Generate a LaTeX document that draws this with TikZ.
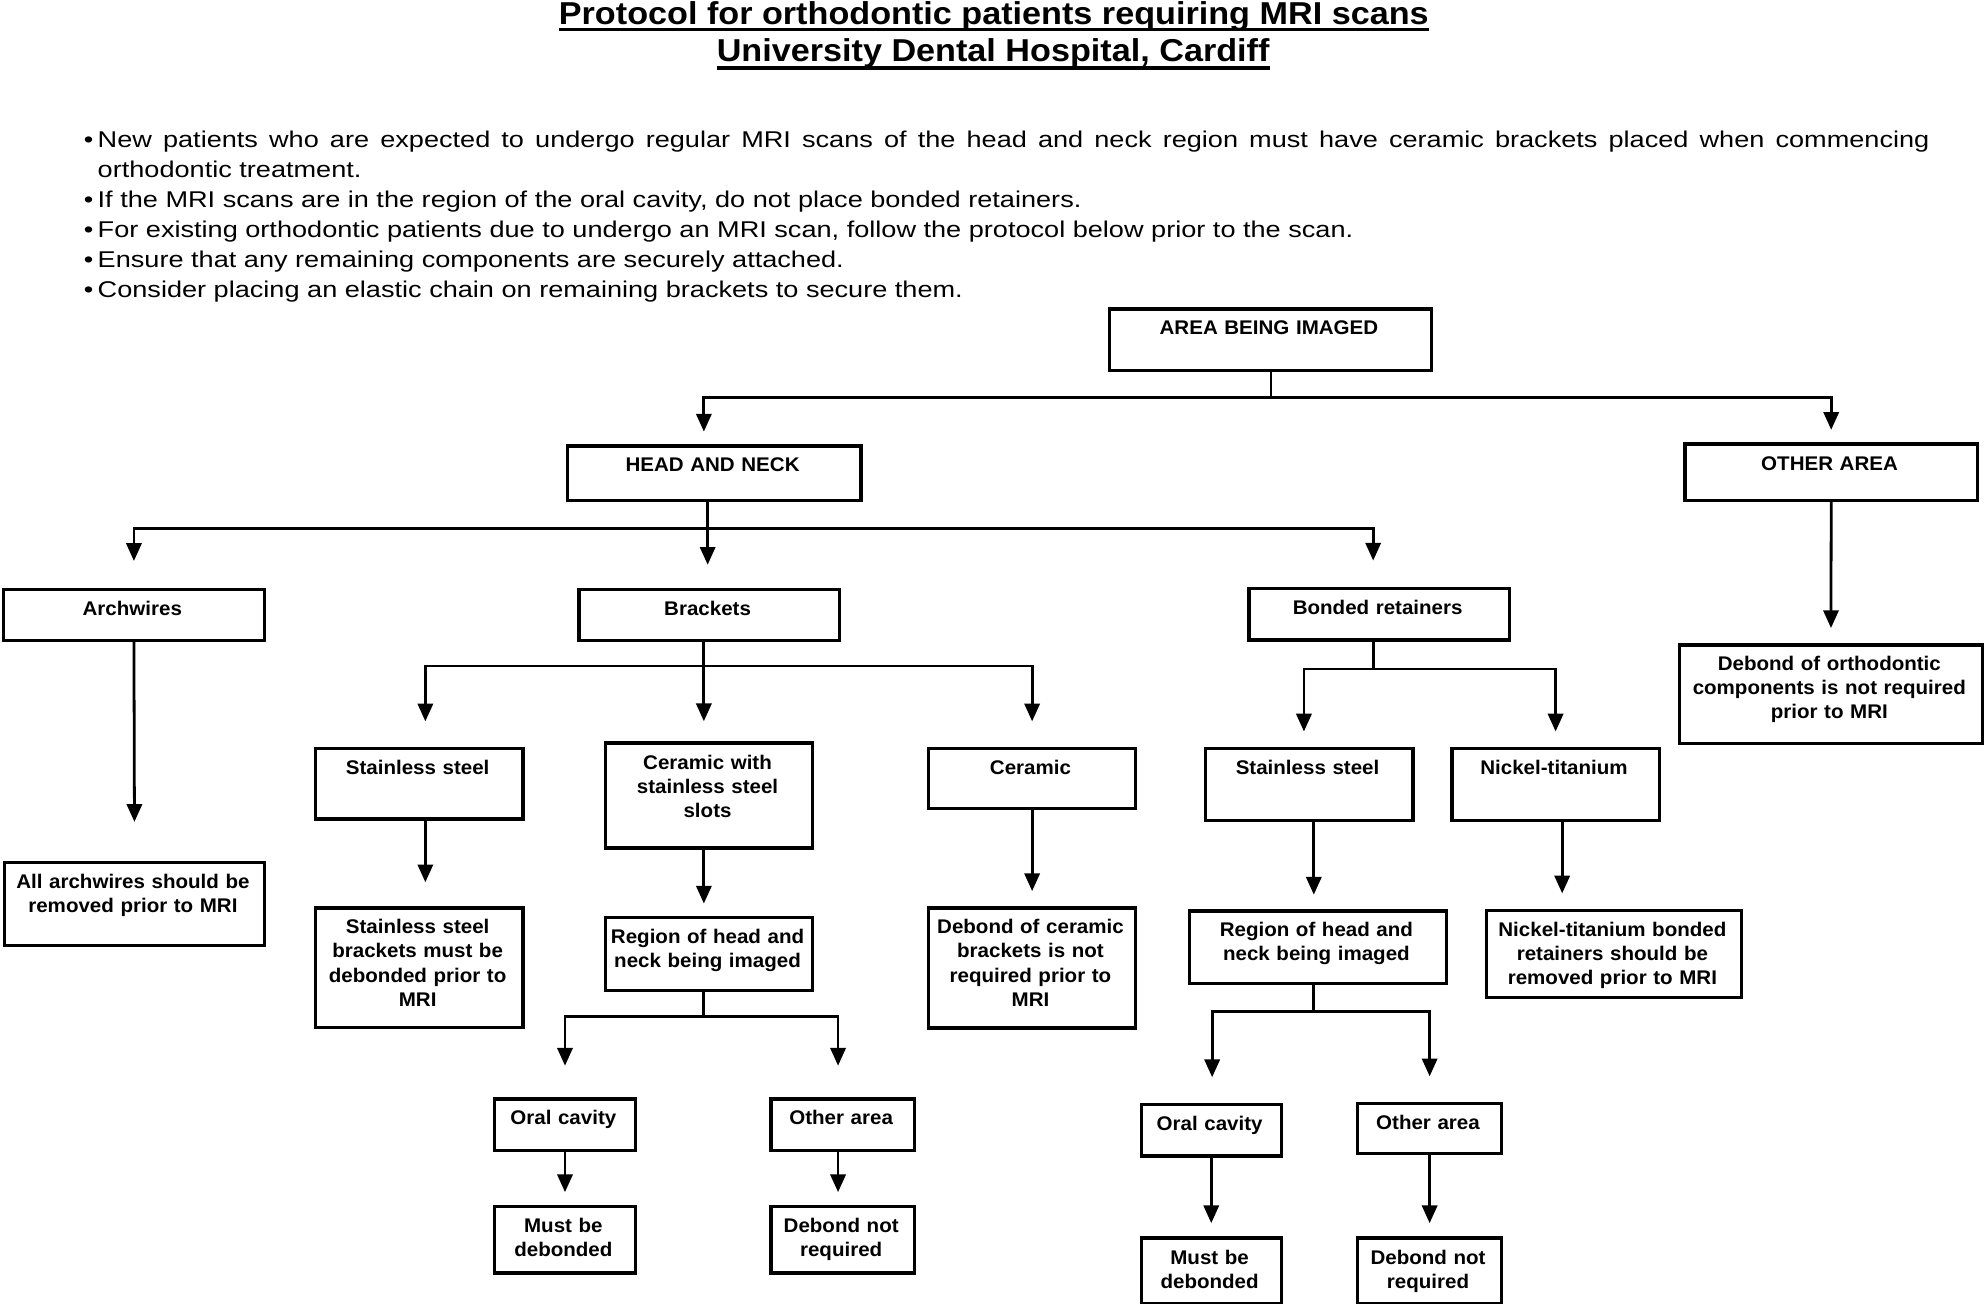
\documentclass[tikz,border=0pt]{standalone}
\usepackage{fontspec}
\setmainfont{Liberation Sans}
\newfontfamily\titlefont[FakeStretch=1.08]{Liberation Sans}
\newfontfamily\bulfont[FakeStretch=1.19]{Liberation Sans}
\newfontfamily\boxfont[FakeStretch=1.04]{Liberation Sans}
\usetikzlibrary{arrows.meta}
\newcommand\mkbox[6]{%
  \pgfmathsetmacro\bw{#4-#2-2.4}%
  \pgfmathsetmacro\bh{#5-#3-2.4}%
  \node[box, minimum width=\bw pt, minimum height=\bh pt] (#1) at (#2+1.2,#3+1.2) {};
  \node[btxt, text width=\bw pt] (#1-t) at (#2/2+#4/2,#3+23) {#6};%
}
\newcommand\bul{\leavevmode\llap{\textbullet\hspace{3.4pt}}}
\begin{document}
\begin{tikzpicture}[x=1pt,y=-1pt,
  box/.style={draw, line width=2.6pt, inner sep=0pt, anchor=north west},
  btxt/.style={font=\boxfont\bfseries\fontsize{15.6}{19}\selectfont, align=center, anchor=base, inner sep=0pt},
  ttl/.style={font=\titlefont\bfseries\fontsize{25}{30}\selectfont, anchor=base, inner sep=0pt},
  uline/.style={line width=2.6pt},
  conn/.style={line width=2.2pt},
  arr/.style={line width=2.2pt, -{Triangle[width=12pt,length=14pt]}},
]
\fill[white] (0,0) rectangle (1568,1030);
\useasboundingbox (0,0) rectangle (1568,1030);

% title
\node[ttl] (t1) at (785,19.2) {Protocol for orthodontic patients requiring MRI scans};
\node[ttl] (t2) at (784.5,48.7) {University Dental Hospital, Cardiff};
\draw[uline] ([yshift=-4pt]t1.base west) -- ([yshift=-4pt]t1.base east);
\draw[uline] ([yshift=-5pt]t2.base west) -- ([yshift=-5pt]t2.base east);

% bullets
\node[anchor=base west, inner sep=0pt, text width=1447pt, align=justify,
      font=\bulfont\fontsize{18}{23.7}\selectfont] (bul) at (77,116.6) {%
\setlength\parindent{0pt}%
\bul New patients who are expected to undergo regular MRI scans of the head and neck region must have ceramic brackets placed when commencing\linebreak orthodontic treatment.\par
\bul If the MRI scans are in the region of the oral cavity, do not place bonded retainers.\par
\bul For existing orthodontic patients due to undergo an MRI scan, follow the protocol below prior to the scan.\par
\bul Ensure that any remaining components are securely attached.\par
\bul Consider placing an elastic chain on remaining brackets to secure them.\par};

% boxes
\mkbox{area}{874}{241.5}{1130.7}{292.3}{AREA BEING IMAGED}
\mkbox{head}{445.8}{349.7}{680}{395}{HEAD AND NECK}
\mkbox{other}{1328.6}{348.3}{1561.8}{395}{OTHER AREA}
\mkbox{archw}{0}{462.9}{209}{505.6}{Archwires}
\mkbox{brack}{454.9}{462.9}{663}{505.6}{Brackets}
\mkbox{bond}{984}{462.6}{1192.5}{505.5}{Bonded retainers}
\mkbox{dorth}{1324}{506.9}{1566}{587}{Debond of orthodontic\\components is not required\\prior to MRI}
\mkbox{ssb}{246.8}{588.6}{413}{646.9}{Stainless steel}
\mkbox{cws}{476}{584.5}{641.8}{669.8}{Ceramic with\\stainless steel\\slots}
\mkbox{cer}{731}{588.6}{897}{638.4}{Ceramic}
\mkbox{ssr}{949.7}{588.6}{1116}{648}{Stainless steel}
\mkbox{nit}{1144.4}{588.6}{1310.6}{648}{Nickel-titanium}
\mkbox{allarch}{1}{679}{209}{747}{All archwires should be\\removed prior to MRI}
\mkbox{ssmsg}{246.8}{714.7}{413}{811.4}{Stainless steel\\brackets must be\\debonded prior to\\MRI}
\mkbox{regb}{476}{722.5}{641.8}{782.3}{Region of head and\\neck being imaged}
\mkbox{dcer}{731}{714.7}{897}{812}{Debond of ceramic\\brackets is not\\required prior to\\MRI}
\mkbox{regr}{937}{717}{1142.7}{777}{Region of head and\\neck being imaged}
\mkbox{nimsg}{1171.7}{716.5}{1375.6}{788}{Nickel-titanium bonded\\retainers should be\\removed prior to MRI}
\mkbox{oralb}{388}{865.6}{502}{908.9}{Oral cavity}
\mkbox{othb}{606.5}{865.6}{722.4}{908.9}{Other area}
\mkbox{mustb}{388}{950.5}{502}{1005.5}{Must be\\debonded}
\mkbox{dnb}{606.5}{950.5}{722.4}{1005.5}{Debond not\\required}
\mkbox{oralr}{899}{869.7}{1012}{913}{Oral cavity}
\mkbox{othr}{1070}{869}{1186}{911}{Other area}
\mkbox{mustr}{899}{975.5}{1012}{1029.5}{Must be\\debonded}
\mkbox{dnr}{1070}{975.5}{1186}{1029.5}{Debond not\\required}

% junctions and columns
\coordinate (jA) at (1004,314);
\coordinate (xA1) at (556,0);
\coordinate (jB) at (559,417.6);
\coordinate (xB3) at (1084.7,0);
\coordinate (jC) at (556,526);
\coordinate (xC1) at (336,0);
\coordinate (jD) at (556,803);
\coordinate (xD2) at (662,0);
\coordinate (jE) at (1084.7,528.4);
\coordinate (xE1) at (1030,0);
\coordinate (xF) at (1037.8,0);
\coordinate (xN) at (1234,0);
\coordinate (jF) at (1037.8,798.7);
\coordinate (xF1) at (957.5,0);

% connectors
\draw[conn] (area.south -| jA) -- (jA);
\draw[arr, shorten >=10pt] (jA) -| (head.north -| xA1);
\draw[arr, shorten >=10pt] (jA) -| (other.north);

\draw[conn] (head.south -| jB) -- (jB);
\draw[arr, shorten >=21pt] (jB) -| (archw.north);
\draw[arr, shorten >=18pt] (jB) -- (brack.north -| jB);
\draw[arr, shorten >=21pt] (jB) -| (bond.north -| xB3);

\draw[arr, shorten >=31pt] (archw.south) -- (allarch.north);

\draw[conn] (brack.south -| jC) -- (jC);
\draw[arr, shorten >=20pt] (jC) -| (ssb.north -| xC1);
\draw[arr, shorten >=16pt] (jC) -- (cws.north -| jC);
\draw[arr, shorten >=20pt] (jC) -| (cer.north);

\draw[arr, shorten >=19pt] (ssb.south -| xC1) -- (ssmsg.north -| xC1);
\draw[arr, shorten >=10pt] (cws.south -| jC) -- (regb.north -| jC);
\draw[arr, shorten >=12pt] (cer.south) -- (dcer.north);

\draw[conn] (regb.south -| jD) -- (jD);
\draw[arr, shorten >=25pt] (jD) -| (oralb.north);
\draw[arr, shorten >=25pt] (jD) -| (othb.north -| xD2);
\draw[arr, shorten >=10pt] (oralb.south) -- (mustb.north);
\draw[arr, shorten >=10pt] (othb.south -| xD2) -- (dnb.north -| xD2);

\draw[conn] (bond.south -| jE) -- (jE);
\draw[arr, shorten >=12pt] (jE) -| (ssr.north -| xE1);
\draw[arr, shorten >=12pt] (jE) -| (nit.north);
\draw[arr, shorten >=11.5pt] (ssr.south -| xF) -- (regr.north -| xF);
\draw[arr, shorten >=12pt] (nit.south -| xN) -- (nimsg.north -| xN);

\draw[conn] (regr.south -| jF) -- (jF);
\draw[arr, shorten >=20pt] (jF) -| (oralr.north -| xF1);
\draw[arr, shorten >=20pt] (jF) -| (othr.north);
\draw[arr, shorten >=10.5pt] (oralr.south) -- (mustr.north);
\draw[arr, shorten >=10.5pt] (othr.south) -- (dnr.north);

\draw[arr, shorten >=12pt] (other.south) -- (dorth.north);
\end{tikzpicture}
\end{document}
